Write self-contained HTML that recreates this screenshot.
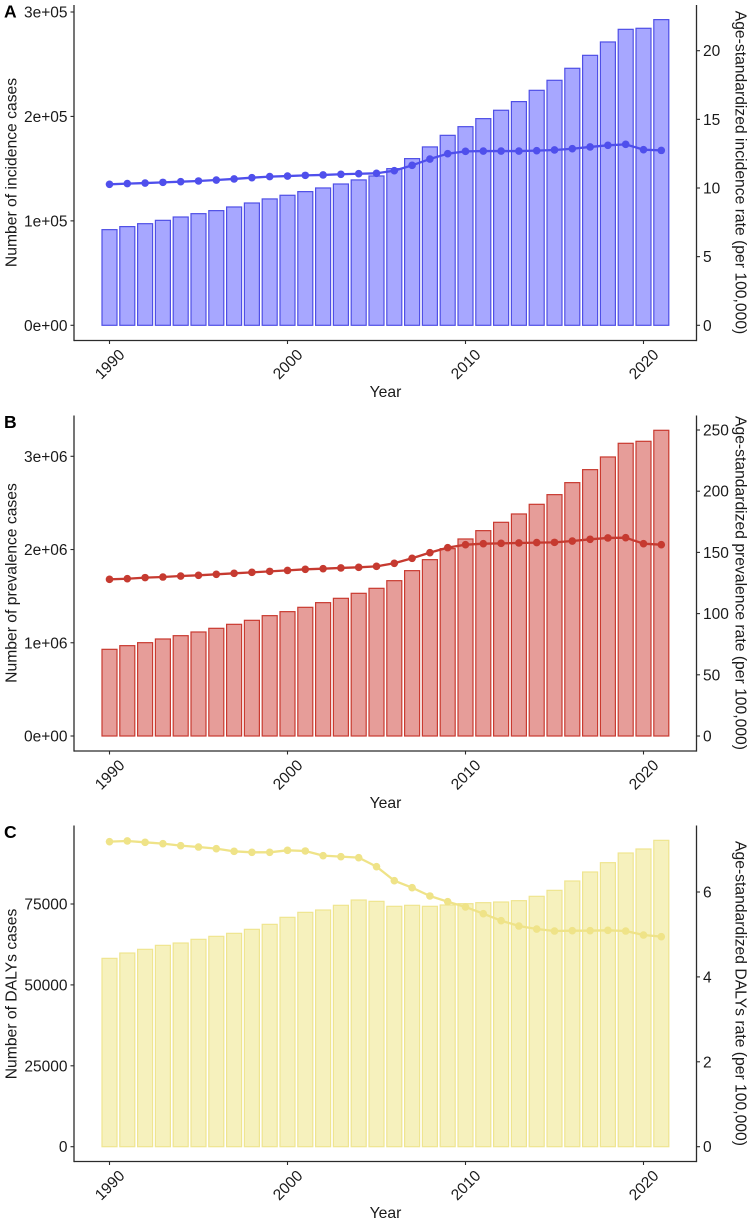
<!DOCTYPE html>
<html>
<head>
<meta charset="utf-8">
<title>Incidence, prevalence and DALYs, 1990-2021</title>
<style>
html,body{margin:0;padding:0;background:#fff;}
svg{display:block;}
text{font-family:"Liberation Sans",sans-serif;fill:#1a1a1a;}
.tick{font-size:15.5px;}
.title{font-size:15.7px;}
.tag{font-size:17.5px;font-weight:bold;fill:#000;}
</style>
</head>
<body>
<svg id="figure" xmlns="http://www.w3.org/2000/svg" width="753" height="1223" viewBox="0 0 753 1223">
  <rect x="0" y="0" width="753" height="1223" fill="#ffffff"/>

  <g id="panel-a"></g>
  <g id="panel-b"></g>
  <g id="panel-c"></g>

  <text class="tag" x="4" y="17.5">A</text>
  <text class="title" text-anchor="middle" transform="translate(16.5,172.5) rotate(-90)">Number of incidence cases</text>
  <text class="title" text-anchor="middle" transform="translate(735.5,172.5) rotate(90)">Age-standardized incidence rate (per 100,000)</text>
  <text class="title" text-anchor="middle" x="385.5" y="397">Year</text>

  <text class="tag" x="4" y="428">B</text>
  <text class="title" text-anchor="middle" transform="translate(16.5,583) rotate(-90)">Number of prevalence cases</text>
  <text class="title" text-anchor="middle" transform="translate(735.5,583) rotate(90)">Age-standardized prevalence rate (per 100,000)</text>
  <text class="title" text-anchor="middle" x="385.5" y="808">Year</text>

  <text class="tag" x="4" y="838">C</text>
  <text class="title" text-anchor="middle" transform="translate(16.5,994) rotate(-90)">Number of DALYs cases</text>
  <text class="title" text-anchor="middle" transform="translate(735.5,993.5) rotate(90)">Age-standardized DALYs rate (per 100,000)</text>
  <text class="title" text-anchor="middle" x="385.5" y="1218">Year</text>
</svg>

<script>
var years = [1990,1991,1992,1993,1994,1995,1996,1997,1998,1999,2000,2001,2002,2003,2004,2005,2006,2007,2008,2009,2010,2011,2012,2013,2014,2015,2016,2017,2018,2019,2020,2021];
var xTicks = [1990,2000,2010,2020];

var incidenceCases = [91600,94500,97300,100500,103700,106900,109800,113300,117100,121000,124500,128000,131500,135300,139200,143000,150000,159600,170800,181900,190200,197900,205900,214200,225000,234600,246100,258500,271300,283400,284400,292700];
var incidenceRate = [10.27,10.32,10.36,10.41,10.46,10.51,10.58,10.66,10.75,10.83,10.87,10.92,10.95,11.0,11.04,11.07,11.26,11.65,12.11,12.5,12.67,12.69,12.69,12.69,12.72,12.77,12.86,12.99,13.11,13.18,12.79,12.74];
var incidenceLeftTicks = [0,100000,200000,300000];
var incidenceLeftLabels = ["0e+00","1e+05","2e+05","3e+05"];
var incidenceRightTicks = [0,5,10,15,20];

var prevalenceCases = [929600,969000,1001000,1040500,1076000,1115600,1155000,1197800,1240700,1290800,1333700,1380200,1430300,1476700,1530400,1584000,1666000,1773500,1891500,2009500,2113200,2202600,2292000,2381400,2485000,2588800,2717500,2856900,2992800,3139400,3160900,3278900];
var prevalenceRate = [128.0,128.5,129.4,129.9,130.7,131.3,132.1,132.9,133.7,134.5,135.3,136.2,136.7,137.3,137.8,138.6,141.1,145.2,149.8,153.9,156.3,157.1,157.4,157.7,158.0,158.2,159.3,160.7,161.8,162.0,157.1,156.3];
var prevalenceLeftTicks = [0,1000000,2000000,3000000];
var prevalenceLeftLabels = ["0e+00","1e+06","2e+06","3e+06"];
var prevalenceRightTicks = [0,50,100,150,200,250];

var dalysCases = [58200,59850,60990,62220,62940,64080,65000,65930,67170,68710,70880,72420,73140,74590,76230,75820,74280,74590,74280,74690,75100,75410,75610,76030,77370,79220,82110,84890,87770,90760,92000,94670];
var dalysRate = [7.186,7.202,7.17,7.139,7.092,7.06,7.021,6.958,6.935,6.935,6.982,6.966,6.856,6.833,6.809,6.597,6.267,6.102,5.906,5.772,5.647,5.49,5.325,5.199,5.128,5.081,5.089,5.089,5.097,5.081,4.987,4.948];
var dalysLeftTicks = [0,25000,50000,75000];
var dalysLeftLabels = ["0","25000","50000","75000"];
var dalysRightTicks = [0,2,4,6];

var SVG_NS = "http://www.w3.org/2000/svg";
function make(parent, tag, attrs, text) {
  var el = document.createElementNS(SVG_NS, tag);
  for (var k in attrs) { el.setAttribute(k, attrs[k]); }
  if (text !== undefined) { el.textContent = text; }
  parent.appendChild(el);
  return el;
}

function linear(d0, d1, r0, r1) {
  return function (v) { return r0 + (v - d0) * (r1 - r0) / (d1 - d0); };
}

var AXIS = "#2b2b2b";
var xLeft = 74, xRight = 696.5;
var xScale = linear(1990, 2020, 109.5, 643.5);
var barWidth = 15.0;

function drawPanel(id, cfg) {
  var root = document.getElementById(id);
  var yLeft = linear(0, cfg.leftRef, cfg.zeroY, cfg.leftRefY);
  var yRight = linear(0, cfg.rightRef, cfg.zeroY, cfg.rightRefY);
  var el, i;

  var bars = make(root, "g", {});
  
  
  for (i = 0; i < cfg.years.length; i++) {
    var top = yLeft(cfg.cases[i]);
    el = make(bars, "rect", {
      x: xScale(cfg.years[i]) - barWidth / 2, y: top,
      width: barWidth, height: yLeft(0) - top,
      fill: cfg.fill, stroke: cfg.barStroke, "stroke-width": 1.2
    });
    
    
  }

  var pts = cfg.years.map(function (yr, j) { return xScale(yr) + "," + yRight(cfg.rate[j]); }).join(" ");
  el = make(root, "polyline", { points: pts, fill: "none", stroke: cfg.line, "stroke-width": 2.3, "stroke-linejoin": "round" });
  
  

  var dots = make(root, "g", {});
  
  
  for (i = 0; i < cfg.years.length; i++) {
    el = make(dots, "circle", { cx: xScale(cfg.years[i]), cy: yRight(cfg.rate[i]), r: 3.8, fill: cfg.line });
    
    
  }

  el = make(root, "line", { x1: xLeft, x2: xLeft, y1: cfg.topY, y2: cfg.bottomY + 0.6, stroke: AXIS, "stroke-width": 1.3 });
  
  
  el = make(root, "line", { x1: xRight, x2: xRight, y1: cfg.topY, y2: cfg.bottomY + 0.6, stroke: AXIS, "stroke-width": 1.3 });
  
  
  el = make(root, "line", { x1: xLeft, x2: xRight, y1: cfg.bottomY, y2: cfg.bottomY, stroke: AXIS, "stroke-width": 1.3 });
  
  

  cfg.leftTicks.forEach(function (v, j) {
    var y = yLeft(v);
    var t = make(root, "line", { x1: xLeft - 3.5, x2: xLeft, y1: y, y2: y, stroke: AXIS, "stroke-width": 1.1 });
    
    
    var l = make(root, "text", { "class": "tick", x: 67.5, y: y + 5.5, "text-anchor": "end" }, cfg.leftLabels[j]);
    
    
  });

  cfg.rightTicks.forEach(function (v) {
    var y = yRight(v);
    var t = make(root, "line", { x1: xRight, x2: xRight + 3.5, y1: y, y2: y, stroke: AXIS, "stroke-width": 1.1 });
    
    
    var l = make(root, "text", { "class": "tick", x: 703, y: y + 5.5, "text-anchor": "start" }, String(v));
    
    
  });

  xTicks.forEach(function (v) {
    var x = xScale(v);
    var t = make(root, "line", { x1: x, x2: x, y1: cfg.bottomY, y2: cfg.bottomY + 3.5, stroke: AXIS, "stroke-width": 1.1 });
    
    
    var cy = cfg.bottomY + 23.5;
    var l = make(root, "text", {
      "class": "tick", x: 0, y: 5.5, "text-anchor": "middle",
      transform: "translate(" + x + "," + cy + ") rotate(-45)"
    }, String(v));
    
    
  });
}

drawPanel("panel-a", {
  years: years, cases: incidenceCases, rate: incidenceRate,
  leftTicks: incidenceLeftTicks, leftLabels: incidenceLeftLabels, rightTicks: incidenceRightTicks,
  leftRef: 300000, rightRef: 20, zeroY: 325.3, leftRefY: 12, rightRefY: 50.7,
  topY: 5, bottomY: 340.5,
  fill: "#a7a7ff", barStroke: "#4f4fe6", line: "#4f4fec"
});
drawPanel("panel-b", {
  years: years, cases: prevalenceCases, rate: prevalenceRate,
  leftTicks: prevalenceLeftTicks, leftLabels: prevalenceLeftLabels, rightTicks: prevalenceRightTicks,
  leftRef: 3000000, rightRef: 250, zeroY: 736, leftRefY: 456.3, rightRefY: 430,
  topY: 415.5, bottomY: 751,
  fill: "#e69d99", barStroke: "#c93a30", line: "#c63a30"
});
drawPanel("panel-c", {
  years: years, cases: dalysCases, rate: dalysRate,
  leftTicks: dalysLeftTicks, leftLabels: dalysLeftLabels, rightTicks: dalysRightTicks,
  leftRef: 75000, rightRef: 6, zeroY: 1146.7, leftRefY: 904, rightRefY: 892,
  topY: 825.5, bottomY: 1161.5,
  fill: "#f6f1bd", barStroke: "#efe590", line: "#efe388"
});
</script>
</body>
</html>
